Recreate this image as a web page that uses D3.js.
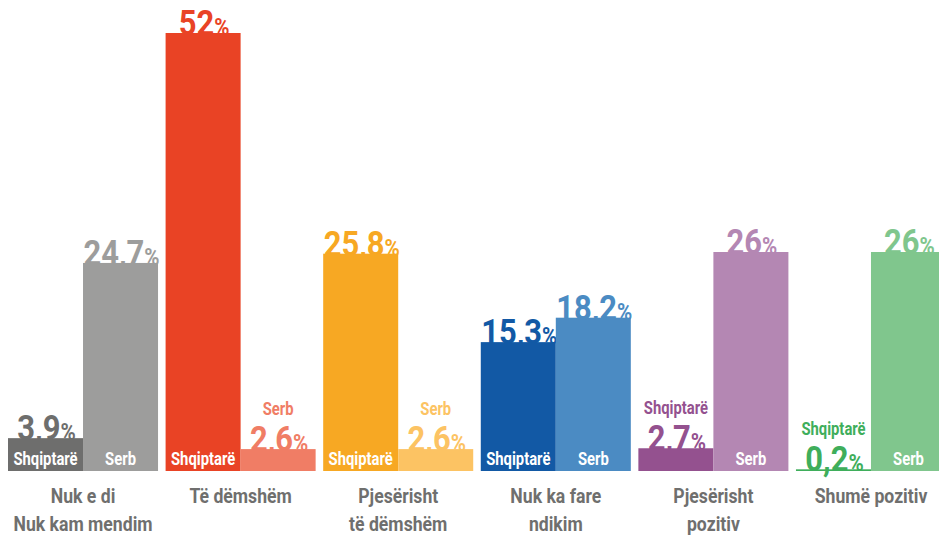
<!DOCTYPE html>
<html><head><meta charset="utf-8">
<script src="https://cdn.jsdelivr.net/npm/d3@7"></script>
<style>body{margin:0;background:#fff}svg{display:block}text{font-family:Roboto,"DejaVu Sans",sans-serif;font-weight:700}</style>
</head><body><svg id="c" width="939" height="539"></svg>
<script>
const categories = [["Nuk e di","Nuk kam mendim"],["Të dëmshëm"],["Pjesërisht","të dëmshëm"],["Nuk ka fare","ndikim"],["Pjesërisht","pozitiv"],["Shumë pozitiv"]];
const seriesNames = ["Shqiptarë","Serb"];
const shqiptare = [3.9, 52, 25.8, 15.3, 2.7, 0.2];
const serb = [24.7, 2.6, 2.6, 18.2, 26, 26];
const darkColors = ["#6e6e6d","#e94325","#f7a823","#1259a5","#94518f","#3fae5b"];
const lightColors = ["#9d9d9c","#f07d65","#fcc363","#4b8bc3","#b487b3","#80c68d"];

const svg = d3.select("#c");
const SX = 0.8;
const baseY = 471;
const y = d3.scaleLinear().domain([0,52]).range([baseY,33]);
const x0 = d3.scaleBand().domain(d3.range(categories.length)).range([8,946]).paddingInner(0.048).paddingOuter(0);
const x1 = d3.scaleBand().domain([0,1]).range([0,x0.bandwidth()]);
const fmt = v => String(v).replace(".", ",");

const bars = [];
categories.forEach((c,i)=>{
  [shqiptare[i], serb[i]].forEach((v,j)=>{
    bars.push({i,j,v,name:seriesNames[j],color:j===0?darkColors[i]:lightColors[i]});
  });
});
const cx = d => x0(d.i)+x1(d.j)+x1.bandwidth()/2;

// value labels (drawn under bars, bars hide their lower edge)
const vl = svg.append("g").selectAll("g").data(bars).join("g")
  .attr("transform", d=>`translate(${cx(d)+1},${y(d.v)+2}) scale(0.86,1)`);
const vt = vl.append("text").attr("text-anchor","middle").attr("fill",d=>d.color).attr("font-size",36);
vt.append("tspan").text(d=>fmt(d.v));
vt.append("tspan").attr("font-size",24).text("%");

// bars
svg.append("g").selectAll("rect").data(bars).join("rect")
  .attr("x", d=>x0(d.i)+x1(d.j)).attr("width", x1.bandwidth())
  .attr("y", d=>y(d.v)).attr("height", d=>baseY-y(d.v)).attr("fill", d=>d.color);

// series labels
svg.append("g").selectAll("g").data(bars).join("g")
  .attr("transform", d=> d.v<3.5 ? `translate(${cx(d)},${y(d.v)-34}) scale(${SX},1)` : `translate(${cx(d)},${baseY-6}) scale(${SX},1)`)
  .append("text").attr("text-anchor","middle").attr("font-size",18.5)
  .attr("fill", d=> d.v<3.5 ? d.color : "#fff").text(d=>d.name);

// category labels
const cg = svg.append("g").selectAll("g").data(categories).join("g")
  .attr("transform",(d,i)=>`translate(${x0(i)+x0.bandwidth()/2},0)`);
cg.each(function(lines){
  lines.forEach((t,k)=>{
    d3.select(this).append("g").attr("transform",`translate(0,${503+k*28}) scale(0.84,1)`)
      .append("text").attr("text-anchor","middle").attr("font-size",21).attr("fill","#6f6f6e").text(t);
  });
});
</script></body></html>
